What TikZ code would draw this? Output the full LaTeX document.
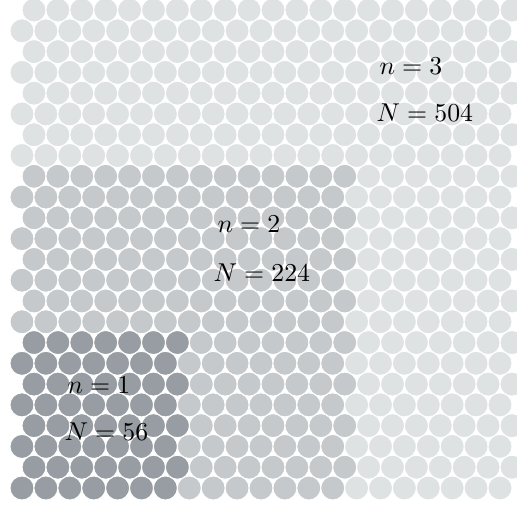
\documentclass[tikz,border=0pt]{standalone}
\usepackage{tikz}
\definecolor{disc1}{HTML}{979DA2}
\definecolor{disc2}{HTML}{C5C9CC}
\definecolor{disc3}{HTML}{DFE2E3}
\tikzset{
  disc/.style={draw=white,line width=0.35pt},
  countlabel/.style={anchor=base west,inner sep=0pt,text=black}
}

\begin{document}
\begin{tikzpicture}[x=0.3876pt,y=0.3876pt]
  \path[use as bounding box] (0,0) rectangle (517,507);
  \begin{scope}
    \clip (0,0) rectangle (517,507);
    % hexagonal packing, 24 rows of 21 discs, shaded by level n
    \foreach \r in {0,...,23}{
      \foreach \c in {0,...,20}{
        \pgfmathsetmacro{\xc}{22+23.9*\c+12*mod(\r,2)}
        \pgfmathsetmacro{\yc}{19+20.78*\r}
        \pgfmathtruncatemacro{\lvl}{(\r<8 && \c<7) ? 1 : ((\r<16 && \c<14) ? 2 : 3)}
        \fill[disc,fill=disc\lvl] (\xc,\yc) circle (12);
      }
    }
  \end{scope}
  \node[countlabel] (nthree) at (379,432) {$n=3$};
  \node[countlabel] (Nthree) at (376,385) {$N=504$};
  \node[countlabel] (ntwo) at (217,274) {$n=2$};
  \node[countlabel] (Ntwo) at (213,225) {$N=224$};
  \node[countlabel] (none) at (67,114) {$n=1$};
  \node[countlabel] (None) at (64,67) {$N=56$};
\end{tikzpicture}
\end{document}
